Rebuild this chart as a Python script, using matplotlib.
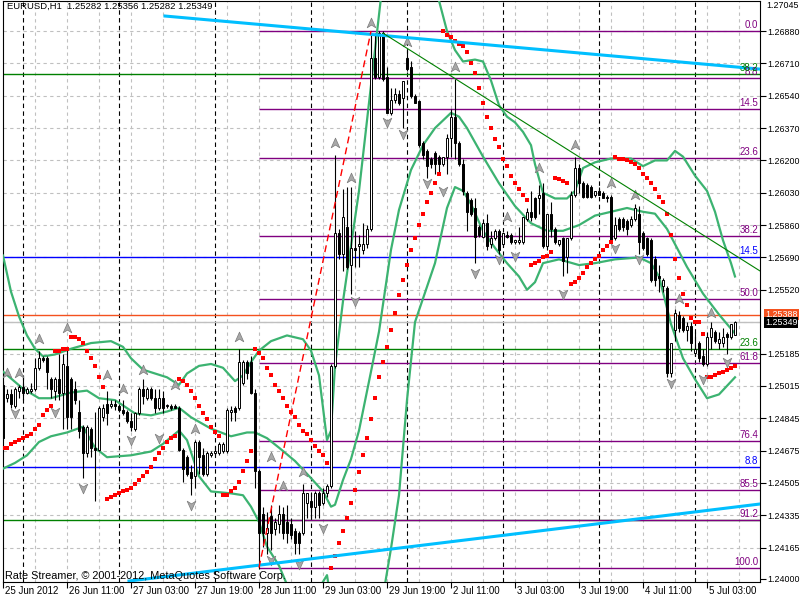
import matplotlib
matplotlib.use('Agg')
import matplotlib.pyplot as plt
import matplotlib.transforms as mtransforms
from matplotlib.path import Path
import numpy as np

plt.rcParams['font.family'] = ['Liberation Sans', 'DejaVu Sans']

# ---- EURUSD H1 candles (bar 0 = 25 Jun 2012 19:00) ----
open_ = [1.2502,1.2495,1.2497,1.2491,1.2499,1.2501,1.2498,1.2499,1.2500,1.2511,
         1.2516,1.2516,1.2505,1.2499,1.2505,1.2498,1.2512,1.2505,1.2500,1.2488,
         1.2480,1.2466,1.2479,1.2469,1.2468,1.2485,1.2492,1.2491,1.2492,1.2491,
         1.2489,1.2488,1.2483,1.2479,1.2487,1.2500,1.2495,1.2500,1.2495,1.2490,
         1.2495,1.2491,1.2491,1.2491,1.2490,1.2468,1.2464,1.2456,1.2454,1.2472,
         1.2465,1.2455,1.2465,1.2466,1.2466,1.2467,1.2467,1.2488,1.2490,1.2490,
         1.2503,1.2514,1.2514,1.2498,1.2457,1.2434,1.2424,1.2433,1.2426,1.2429,
         1.2434,1.2430,1.2429,1.2425,1.2424,1.2424,1.2440,1.2441,1.2438,1.2445,
         1.2440,1.2445,1.2449,1.2512,1.2582,1.2571,1.2585,1.2565,1.2574,1.2575,
         1.2573,1.2576,1.2584,1.2674,1.2664,1.2687,1.2664,1.2645,1.2652,1.2655,
         1.2653,1.2674,1.2669,1.2654,1.2651,1.2629,1.2625,1.2621,1.2624,1.2622,
         1.2618,1.2622,1.2632,1.2643,1.2629,1.2618,1.2603,1.2599,1.2595,1.2585,
         1.2580,1.2587,1.2576,1.2579,1.2583,1.2576,1.2581,1.2581,1.2577,1.2577,
         1.2577,1.2589,1.2593,1.2600,1.2600,1.2603,1.2575,1.2592,1.2584,1.2576,
         1.2579,1.2569,1.2579,1.2602,1.2616,1.2608,1.2607,1.2606,1.2602,1.2604,
         1.2603,1.2601,1.2601,1.2579,1.2589,1.2589,1.2588,1.2586,1.2589,1.2592,
         1.2582,1.2579,1.2578,1.2568,1.2559,1.2554,1.2553,1.2508,1.2531,1.2539,
         1.2537,1.2531,1.2533,1.2519,1.2524,1.2517,1.2513,1.2527,1.2530,1.2524,
         1.2524,1.2529,1.2527,1.25282]
high = [1.2504,1.2500,1.2500,1.2501,1.2502,1.2507,1.2501,1.2503,1.2516,1.2520,
        1.2517,1.2517,1.2506,1.2506,1.2518,1.2518,1.2521,1.2506,1.2504,1.2494,
        1.2481,1.2481,1.2480,1.2488,1.2491,1.2492,1.2499,1.2494,1.2494,1.2492,
        1.2494,1.2489,1.2487,1.2488,1.2501,1.2505,1.2501,1.2501,1.2500,1.2500,
        1.2499,1.2492,1.2492,1.2492,1.2491,1.2469,1.2465,1.2460,1.2473,1.2473,
        1.2469,1.2467,1.2467,1.2470,1.2472,1.2472,1.2490,1.2491,1.2491,1.2521,
        1.2515,1.2515,1.2517,1.2500,1.2458,1.2438,1.2435,1.2439,1.2432,1.2439,
        1.2438,1.2439,1.2432,1.2427,1.2425,1.2450,1.2445,1.2445,1.2446,1.2446,
        1.2448,1.2450,1.2513,1.2623,1.2584,1.2605,1.2606,1.2606,1.2583,1.2581,
        1.2587,1.2586,1.2687,1.2687,1.2688,1.2688,1.2669,1.2658,1.2658,1.2657,
        1.2662,1.2678,1.2672,1.2655,1.2652,1.2630,1.2626,1.2622,1.2625,1.2623,
        1.2622,1.2634,1.2647,1.2663,1.2630,1.2621,1.2604,1.2600,1.2600,1.2586,
        1.2589,1.2592,1.2583,1.2584,1.2584,1.2582,1.2583,1.2582,1.2578,1.2585,
        1.2590,1.2595,1.2604,1.2601,1.2607,1.2608,1.2592,1.2598,1.2585,1.2578,
        1.2580,1.2579,1.2604,1.2622,1.2618,1.2609,1.2608,1.2607,1.2604,1.2606,
        1.2604,1.2602,1.2602,1.2590,1.2590,1.2590,1.2589,1.2591,1.2597,1.2596,
        1.2583,1.2580,1.2579,1.2570,1.2565,1.2558,1.2554,1.2524,1.2542,1.2541,
        1.2538,1.2535,1.2535,1.2530,1.2525,1.2521,1.2530,1.2535,1.2531,1.2530,
        1.2532,1.2530,1.2534,1.25356]
low = [1.2473,1.2493,1.2490,1.2490,1.2495,1.2494,1.2497,1.2498,1.2499,1.2510,
       1.2514,1.2500,1.2495,1.2494,1.2494,1.2479,1.2479,1.2479,1.2492,1.2474,
       1.2453,1.2464,1.2464,1.2441,1.2467,1.2483,1.2481,1.2490,1.2489,1.2488,
       1.2486,1.2482,1.2478,1.2478,1.2486,1.2492,1.2494,1.2494,1.2487,1.2489,
       1.2487,1.2490,1.2489,1.2490,1.2467,1.2451,1.2454,1.2444,1.2448,1.2455,
       1.2454,1.2454,1.2464,1.2465,1.2465,1.2466,1.2466,1.2483,1.2483,1.2489,
       1.2502,1.2505,1.2497,1.2448,1.2405,1.2417,1.2413,1.2415,1.2423,1.2424,
       1.2421,1.2419,1.2421,1.2413,1.2413,1.2423,1.2432,1.2432,1.2432,1.2432,
       1.2439,1.2443,1.2448,1.2511,1.2568,1.2562,1.2563,1.2550,1.2564,1.2564,
       1.2571,1.2574,1.2583,1.2663,1.2663,1.2662,1.2645,1.2644,1.2650,1.2649,
       1.2637,1.2667,1.2653,1.2650,1.2627,1.2621,1.2611,1.2616,1.2613,1.2613,
       1.2617,1.2613,1.2622,1.2621,1.2617,1.2602,1.2583,1.2591,1.2566,1.2580,
       1.2579,1.2573,1.2574,1.2578,1.2571,1.2575,1.2579,1.2576,1.2576,1.2576,
       1.2576,1.2588,1.2588,1.2589,1.2592,1.2574,1.2573,1.2580,1.2576,1.2575,
       1.2559,1.2561,1.2578,1.2601,1.2603,1.2600,1.2600,1.2600,1.2601,1.2602,
       1.2600,1.2598,1.2577,1.2578,1.2583,1.2583,1.2581,1.2585,1.2588,1.2571,
       1.2573,1.2570,1.2556,1.2554,1.2551,1.2551,1.2506,1.2506,1.2525,1.2530,
       1.2530,1.2525,1.2520,1.2517,1.2514,1.2512,1.2512,1.2521,1.2524,1.2521,
       1.2522,1.2518,1.2526,1.25282]
close = [1.2474,1.2497,1.2492,1.2500,1.2501,1.2498,1.2500,1.2500,1.2511,1.2516,
         1.2515,1.2509,1.2500,1.2505,1.2498,1.2513,1.2485,1.2485,1.2494,1.2478,
         1.2466,1.2480,1.2469,1.2468,1.2490,1.2490,1.2487,1.2492,1.2491,1.2489,
         1.2487,1.2483,1.2480,1.2487,1.2500,1.2496,1.2500,1.2495,1.2490,1.2495,
         1.2490,1.2491,1.2490,1.2490,1.2468,1.2458,1.2455,1.2453,1.2472,1.2464,
         1.2455,1.2466,1.2466,1.2467,1.2471,1.2471,1.2489,1.2489,1.2488,1.2514,
         1.2514,1.2508,1.2498,1.2457,1.2424,1.2424,1.2427,1.2424,1.2430,1.2434,
         1.2424,1.2424,1.2423,1.2419,1.2419,1.2445,1.2445,1.2438,1.2445,1.2439,
         1.2445,1.2449,1.2512,1.2582,1.2571,1.2590,1.2564,1.2574,1.2573,1.2576,
         1.2576,1.2584,1.2674,1.2664,1.2687,1.2663,1.2645,1.2652,1.2655,1.2650,
         1.2662,1.2668,1.2654,1.2650,1.2628,1.2623,1.2617,1.2618,1.2618,1.2618,
         1.2622,1.2632,1.2643,1.2629,1.2618,1.2604,1.2593,1.2592,1.2580,1.2581,
         1.2587,1.2575,1.2579,1.2583,1.2573,1.2582,1.2580,1.2577,1.2578,1.2578,
         1.2590,1.2593,1.2590,1.2590,1.2602,1.2575,1.2592,1.2584,1.2577,1.2578,
         1.2567,1.2579,1.2602,1.2616,1.2608,1.2601,1.2601,1.2601,1.2604,1.2602,
         1.2600,1.2600,1.2578,1.2586,1.2584,1.2585,1.2584,1.2589,1.2595,1.2577,
         1.2574,1.2571,1.2557,1.2557,1.2558,1.2557,1.2508,1.2524,1.2540,1.2532,
         1.2531,1.2533,1.2524,1.2521,1.2516,1.2513,1.2527,1.2532,1.2525,1.2526,
         1.2527,1.2527,1.2534,1.25349]

# Parabolic SAR, one dot per bar
sar = [1.2469,1.2469,1.2471,1.2472,1.2473,1.2474,1.2475,1.2476,1.2479,1.2481,
       1.2486,1.2489,1.2491,1.2520,1.2520,1.2521,1.2521,1.2527,1.2527,1.2526,
       1.2524,1.2520,1.2516,1.2512,1.2506,1.2501,1.2442,1.2443,1.2444,1.2445,
       1.2446,1.2447,1.2448,1.2450,1.2452,1.2454,1.2456,1.2459,1.2463,1.2466,
       1.2469,1.2472,1.2474,1.2475,1.2505,1.2504,1.2502,1.2499,1.2495,1.2491,
       1.2487,1.2484,1.2480,1.2477,1.2475,1.2444,1.2444,1.2446,1.2448,1.2451,
       1.2457,1.2462,1.2467,1.2521,1.2519,1.2516,1.2511,1.2507,1.2502,1.2499,
       1.2495,1.2491,1.2488,1.2485,1.2481,1.2478,1.2476,1.2473,1.2470,1.2467,
       1.2465,1.2461,1.2406,1.2412,1.2419,1.2425,1.2432,1.2440,1.2447,1.2456,
       1.2465,1.2474,1.2484,1.2495,1.2506,1.2514,1.2522,1.2531,1.2540,1.2549,
       1.2557,1.2565,1.2573,1.2579,1.2586,1.2592,1.2598,1.2603,1.2608,1.2613,
       1.2688,1.2686,1.2685,1.2683,1.2681,1.2680,1.2677,1.2671,1.2666,1.2658,
       1.2650,1.2643,1.2637,1.2631,1.2627,1.2621,1.2617,1.2612,1.2608,1.2605,
       1.2602,1.2599,1.2565,1.2566,1.2567,1.2569,1.2570,1.2572,1.2611,1.2610,
       1.2609,1.2608,1.2555,1.2556,1.2558,1.2561,1.2564,1.2566,1.2568,1.2570,
       1.2573,1.2575,1.2577,1.2622,1.2621,1.2621,1.2620,1.2619,1.2618,1.2616,
       1.2613,1.2611,1.2608,1.2605,1.2601,1.2598,1.2592,1.2581,1.2568,1.2558,
       1.2550,1.2544,1.2537,1.2535,1.2535,1.2529,1.2506,1.2506,1.2507,1.2508,
       1.2509,1.2510,1.2511,1.2512]

# Bollinger bands, read at sample bars
ub_x = [0,2,4,6,8,10,13,17,22,27,30,32,35,38,41,44,46,49,52,55,58,60,62,64,67,71,
        75,77,79,81,82,83,85,87,89,91,93,95,97,100,104,107,109,111,113,115,118,120,
        122,124,126,128,130,132,133,135,138,141,143,145,148,152,157,160,163,166,168,
        170,173,176,178,180,182,183]
ub_y = [1.2570,1.2551,1.2538,1.2528,1.2521,1.2517,1.2518,1.2521,1.2524,1.2525,1.2522,
        1.2516,1.2510,1.2508,1.2506,1.2502,1.2508,1.2512,1.2513,1.2511,1.2504,1.2507,
        1.2514,1.2520,1.2525,1.2528,1.2526,1.2520,1.2507,1.2473,1.2478,1.2512,1.2546,
        1.2575,1.2604,1.2641,1.2678,1.2715,1.2746,1.2751,1.2746,1.2725,1.2704,1.2688,
        1.2678,1.2672,1.2673,1.2672,1.2662,1.2649,1.2643,1.2640,1.2635,1.2628,1.2618,
        1.2603,1.2600,1.2600,1.2604,1.2616,1.2619,1.2621,1.2621,1.2617,1.2620,1.2620,
        1.2625,1.2622,1.2612,1.2604,1.2593,1.2578,1.2566,1.2559]
mb_x = [0,5,9,12,17,21,24,28,33,37,41,44,47,52,57,61,63,66,69,73,77,80,82,83,85,87,
        89,92,94,97,99,102,105,108,112,114,116,120,124,128,132,136,140,144,148,152,
        156,160,163,166,168,171,175,179,183]
mb_y = [1.2509,1.2500,1.2495,1.2495,1.2498,1.2499,1.2495,1.2494,1.2487,1.2486,1.2488,
        1.2490,1.2485,1.2479,1.2475,1.2477,1.2477,1.2474,1.2469,1.2462,1.2453,1.2446,
        1.2438,1.2439,1.2452,1.2463,1.2478,1.2509,1.2530,1.2573,1.2594,1.2615,1.2628,
        1.2637,1.2645,1.2643,1.2637,1.2622,1.2608,1.2596,1.2587,1.2583,1.2583,1.2586,
        1.2591,1.2593,1.2595,1.2593,1.2592,1.2584,1.2576,1.2564,1.2550,1.2539,1.2529]
lb_x = [0,3,6,9,12,16,20,23,26,32,37,40,44,46,49,52,57,60,62,64,66,69,71,74,77,81,
        83,85,87,89,91,93,95,97,99,101,103,108,111,113,115,117,120,123,126,129,131,
        133,135,139,144,148,153,159,162,164,167,170,173,176,179,183]
lb_y = [1.2458,1.2461,1.2465,1.2472,1.2475,1.2477,1.2480,1.2469,1.2464,1.2465,1.2467,
        1.2471,1.2478,1.2473,1.2454,1.2446,1.2445,1.2444,1.2438,1.2430,1.2417,1.2407,
        1.2397,1.2385,1.2388,1.2402,1.2375,1.2358,1.2336,1.2325,1.2336,1.2357,1.2391,
        1.2416,1.2444,1.2494,1.2535,1.2566,1.2595,1.2606,1.2604,1.2597,1.2583,1.2574,
        1.2566,1.2559,1.2552,1.2556,1.2566,1.2568,1.2565,1.2566,1.2568,1.2569,1.2566,
        1.2559,1.2534,1.2516,1.2505,1.2495,1.2497,1.2506]

# Fractals (bar, marker price)
frac_up_x = [1,4,9,16,26,30,35,43,48,59,67,70,75,83,87,92,101,113,126,134,143,152,158,169,177]
frac_up_y = [1.2508,1.2508,1.2526,1.2532,1.2507,1.2500,1.2510,1.2502,1.2479,1.2527,1.2464,
             1.2449,1.2456,1.2629,1.2611,1.2692,1.2682,1.2669,1.2590,1.2616,1.2628,1.2608,
             1.2602,1.2547,1.2540]
frac_dn_x = [3,13,20,32,39,47,67,74,80,88,96,100,106,110,118,124,128,140,153,159,167,175,181]
frac_dn_y = [1.2487,1.2488,1.2448,1.2473,1.2474,1.2439,1.2410,1.2408,1.2427,1.2546,1.2640,
             1.2634,1.2608,1.2604,1.2561,1.2568,1.2570,1.2550,1.2574,1.2568,1.2503,1.2505,
             1.2514]

# Fibonacci retracement (purple), anchored low -> high
fib_x = [64, 92]
fib_price = [1.2406, 1.2688]
fib_levels = [0.0, 8.8, 14.5, 23.6, 38.2, 50.0, 61.8, 76.4, 85.5, 91.2, 100.0]
# other fibo objects, only a few levels visible
green_labels = ['38.2', '23.6', '14.5']
green_prices = [1.26654, 1.25209, 1.24310]
blue_labels = ['14.5', '8.8']
blue_prices = [1.25692, 1.24589]

# trend lines (bar, price)
top_line_x, top_line_y = [40.5, 189.25], [1.26959, 1.26680]
bot_line_x, bot_line_y = [31.5, 189.25], [1.23989, 1.24394]
grn_line_x, grn_line_y = [95, 189.25], [1.26869, 1.25619]

ask_price, bid_price = 1.25388, 1.25349

price_ticks = [1.26880, 1.26710, 1.26540, 1.26370, 1.26200, 1.26030, 1.25860, 1.25690,
               1.25520, 1.25185, 1.25015, 1.24845, 1.24675, 1.24505, 1.24335, 1.24165, 1.24000]
grid_prices = price_ticks[:9] + [1.25350] + price_ticks[9:-1]
time_pos = list(range(0, 177, 16))
time_labels = ['25 Jun 2012', '26 Jun 11:00', '27 Jun 03:00', '27 Jun 19:00', '28 Jun 11:00',
               '29 Jun 03:00', '29 Jun 19:00', '2 Jul 11:00', '3 Jul 03:00', '3 Jul 19:00',
               '4 Jul 11:00', '5 Jul 03:00']
day_starts = [5, 29, 53, 77, 101, 125, 149, 173]

# ---- figure ----
fig = plt.figure(figsize=(8, 6), dpi=100)
ax = fig.add_axes([3 / 800, 18 / 600, 757 / 800, 581 / 600])
ax.set_xlim(0, 189.25)
ax.set_ylim(1.23984, 1.27038)

for i in range(8, 190, 8):
    ax.axvline(i, color='#c0c0c0', lw=0.8, ls=(0, (3, 3)), zorder=0)
for p in grid_prices:
    ax.axhline(p, color='#c0c0c0', lw=0.8, ls=(0, (3, 3)), zorder=0)
for d in day_starts:
    ax.axvline(d, color='black', lw=0.8, ls=(0, (4, 3)), zorder=1)

# horizontal objects
green = '#008000'
blue = '#0000ff'
purple = '#800080'
for p in green_prices:
    ax.axhline(p, color=green, lw=1, zorder=2)
for p in blue_prices:
    ax.axhline(p, color=blue, lw=1, zorder=2)
ax.axhline(bid_price, color='#c0c0c0', lw=1, zorder=2)
ax.axhline(ask_price, color='#f4511e', lw=1, zorder=2)

fib_lo, fib_hi = fib_price
fib_prices = [fib_hi - lv / 100 * (fib_hi - fib_lo) for lv in fib_levels]
ax.hlines(fib_prices, fib_x[0], 189.25, color=purple, lw=1, zorder=2)

# bollinger
bcol = '#3cb371'
ax.plot(ub_x, ub_y, color=bcol, lw=1.6, zorder=3)
ax.plot(mb_x, mb_y, color=bcol, lw=1.6, zorder=3)
ax.plot(lb_x, lb_y, color=bcol, lw=1.6, zorder=3)

# candles
o = np.array(open_); h = np.array(high); l = np.array(low); c = np.array(close)
idx = np.arange(len(o))
ax.vlines(idx, l, h, color='black', lw=0.8, zorder=4)
body_lo = np.minimum(o, c)
body_h = np.maximum(np.abs(c - o), 0.00003)
face = np.where(c >= o, 'white', 'black')
ax.bar(idx, body_h, bottom=body_lo, width=0.55, color=face, edgecolor='black',
       linewidth=0.7, zorder=5)

# SAR
ax.plot(idx, sar, 's', color='red', ms=2.6, mew=0, zorder=6)

# fractals
up_path = Path([(0, 1), (0.8, -0.8), (0, -0.3), (-0.8, -0.8), (0, 1)],
               [Path.MOVETO, Path.LINETO, Path.LINETO, Path.LINETO, Path.CLOSEPOLY])
dn_path = Path([(0, -1), (0.8, 0.8), (0, 0.3), (-0.8, 0.8), (0, -1)],
               [Path.MOVETO, Path.LINETO, Path.LINETO, Path.LINETO, Path.CLOSEPOLY])
ax.scatter(frac_up_x, frac_up_y, marker=up_path, s=60, facecolor='#a8a8a8',
           edgecolor='#7a7a7a', linewidth=0.5, zorder=7)
ax.scatter(frac_dn_x, frac_dn_y, marker=dn_path, s=60, facecolor='#a8a8a8',
           edgecolor='#7a7a7a', linewidth=0.5, zorder=7)

# trend lines
ax.plot(top_line_x, top_line_y, color='#00bfff', lw=2.2, zorder=8)
ax.plot(bot_line_x, bot_line_y, color='#00bfff', lw=2.2, zorder=8)
ax.plot(grn_line_x, grn_line_y, color=green, lw=0.8, zorder=8)
ax.plot(fib_x, fib_price, color='red', lw=1, ls=(0, (5, 3)), zorder=8)

# level labels
lab_tr = mtransforms.offset_copy(ax.transData, fig=fig, x=0, y=1, units='dots')
for lv, p in zip(fib_levels, fib_prices):
    ax.text(188.75, p, f'{lv:.1f}', color=purple, fontsize=7, ha='right', va='bottom',
            transform=lab_tr, zorder=9)
for t, p in zip(green_labels[:2], green_prices[:2]):
    ax.text(188.75, p, t, color=green, fontsize=7, ha='right', va='bottom',
            transform=lab_tr, zorder=9)
for t, p in zip(blue_labels, blue_prices):
    ax.text(188.75, p, t, color=blue, fontsize=7, ha='right', va='bottom',
            transform=lab_tr, zorder=9)

# axes styling
for s in ax.spines.values():
    s.set_color('black')
    s.set_linewidth(0.8)
ax.yaxis.tick_right()
ax.set_yticks(price_ticks)
ax.set_yticklabels([f'{p:.5f}' for p in price_ticks])
ax.tick_params(axis='y', direction='out', length=4, width=0.8, labelsize=6.4, pad=1.5)
ax.set_xticks(time_pos)
ax.tick_params(axis='x', direction='out', length=4, width=0.8, labelbottom=False)
x_tr = mtransforms.offset_copy(ax.get_xaxis_transform(), fig=fig, x=2, y=-4, units='dots')
for pos, lab in zip(time_pos, time_labels):
    ax.text(pos, 0, lab, transform=x_tr, ha='left', va='top', fontsize=7, clip_on=False)

yr = mtransforms.blended_transform_factory(ax.transAxes, ax.transData)
ax.text(1.0, 1.0, '1.27045', transform=mtransforms.offset_copy(ax.transAxes, fig=fig, x=6, y=0, units='dots'),
        ha='left', va='top', fontsize=6.4, clip_on=False)
box_tr = mtransforms.offset_copy(yr, fig=fig, x=5, y=0, units='dots')
ax.text(1.0, ask_price, f'{ask_price:.5f}', transform=box_tr, ha='left', va='center',
        fontsize=6.4, color='white', clip_on=False, zorder=10,
        bbox=dict(boxstyle='square,pad=0.12', fc='#f4511e', ec='none'))
ax.text(1.0, bid_price, f'{bid_price:.5f}', transform=box_tr, ha='left', va='center',
        fontsize=6.4, color='white', clip_on=False, zorder=11,
        bbox=dict(boxstyle='square,pad=0.12', fc='black', ec='none'))

fig.text(7 / 800, 1 - 2 / 600, 'EURUSD,H1  1.25282 1.25356 1.25282 1.25349', ha='left', va='top',
         fontsize=6.8, color='black', zorder=12)
fig.text(5 / 800, 1 - 576 / 600, 'Rate Streamer, \u00a9 2001-2012, MetaQuotes Software Corp.',
         ha='left', va='center', fontsize=7.8, color='black', zorder=12)

fig.savefig('out.png', dpi=100)
